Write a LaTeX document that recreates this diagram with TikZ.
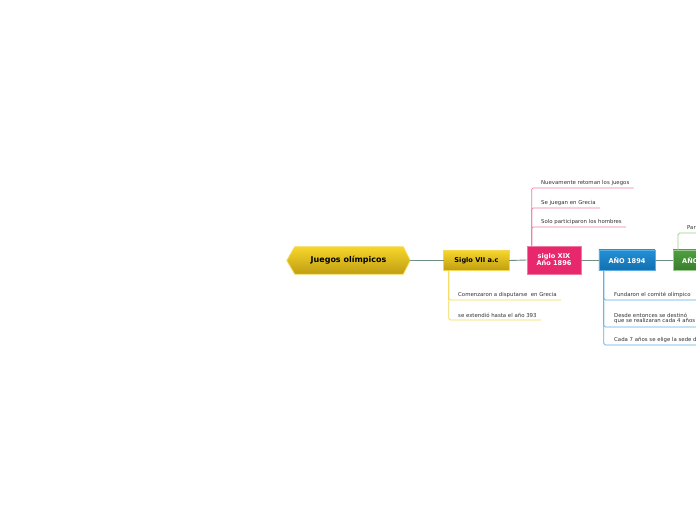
\documentclass[tikz,border=0pt]{standalone}
\usepackage{fontspec}
\setmainfont{DejaVu Sans}
\usetikzlibrary{calc}
\definecolor{conn}{HTML}{6F8F80}
\definecolor{ytop}{HTML}{F6D52A}
\definecolor{ybot}{HTML}{C09E12}
\definecolor{yline}{HTML}{F4D850}
\definecolor{pinkbox}{HTML}{E8286C}
\definecolor{pinkline}{HTML}{EE7AA2}
\definecolor{bluetop}{HTML}{2290D6}
\definecolor{bluebot}{HTML}{146FB0}
\definecolor{blueline}{HTML}{5AAEE6}
\definecolor{greentop}{HTML}{4FA040}
\definecolor{greenbot}{HTML}{3A7E2C}
\definecolor{greenline}{HTML}{9ACB8E}
\tikzset{
  lab/.style={inner xsep=0pt, inner ysep=2.2pt, anchor=south west, font=\fontsize{5.4}{6.4}\selectfont, text=black!80, align=left},
  boxbase/.style={inner sep=0pt, font=\bfseries\fontsize{6.6}{8}\selectfont, align=center},
  conline/.style={draw=conn, line width=0.9pt},
}
\begin{document}
\begin{tikzpicture}[x=1pt,y=-1pt]
\useasboundingbox[fill=white] (0,0) rectangle (696,520);

% root hexagon
\node[inner sep=0pt, minimum width=123pt, minimum height=27pt] (root) at (348.5,260.5) {};
\shade[top color=ytop, bottom color=ybot, draw=yline, line width=0.8pt]
  (root.west) -- ($(root.north west)+(8,0)$) -- ($(root.north east)+(-7,0)$) -- (root.east)
  -- ($(root.south east)+(-7,0)$) -- ($(root.south west)+(8,0)$) -- cycle;
\node[font=\bfseries\fontsize{8}{9}\selectfont] at (root.center) {Juegos olímpicos};

% Siglo VII
\node[boxbase, minimum width=65pt, minimum height=19pt] (vii) at (476.5,260.5) {};
\shade[top color=ytop, bottom color=ybot, draw=yline, line width=0.8pt] (vii.north west) rectangle (vii.south east);
\node[boxbase] at (vii.center) {Siglo VII a.c};

% siglo XIX
\node[boxbase, minimum width=54pt, minimum height=28pt, fill=pinkbox, draw=pinkline, line width=0.6pt, text=white] (xix) at (554,260) {siglo XIX\\[-1pt]Año 1896};

% AÑO 1894
\node[boxbase, minimum width=56pt, minimum height=20pt] (b94) at (627,260) {};
\shade[top color=bluetop, bottom color=bluebot, draw=blueline, line width=0.6pt] (b94.north west) rectangle (b94.south east);
\node[boxbase, text=white] at (b94.center) {AÑO 1894};

% green box (cut off)
\node[boxbase, minimum width=56pt, minimum height=20pt, anchor=west] (g) at (673,260) {};
\shade[top color=greentop, bottom color=greenbot, draw=greenline, line width=0.6pt] (g.north west) rectangle (g.south east);
\node[boxbase, text=white, anchor=west] at ($(g.west)+(9,0)$) {AÑO 1896};

% main connectors
\draw[conline] (root.east) -- (vii.west);
\draw[conline] (vii.east) -- (xix.west);
\draw[conline] (xix.east) -- (b94.west);
\draw[conline] (b94.east) -- (g.west);

% pink children
\node[lab] (p1) at (532,188) {\hspace{9pt}Nuevamente retoman los juegos\hspace{4pt}};
\node[lab] (p2) at (532,208) {\hspace{9pt}Se juegan en Grecia\hspace{4pt}};
\node[lab] (p3) at (532,227) {\hspace{9pt}Solo participaron los hombres\hspace{4pt}};
\foreach \n in {p1,p2,p3}
  \draw[pinkline, line width=0.7pt, rounded corners=1.5pt] ([xshift=5pt]xix.north west) |- (\n.south east);

% yellow children
\node[lab] (y1) at (449,300) {\hspace{9pt}Comenzaron a disputarse\ \ en Grecia\hspace{4pt}};
\node[lab] (y2) at (449,320) {\hspace{9pt}se extendió hasta el año 393\hspace{4pt}};
\foreach \n in {y1,y2}
  \draw[yline, line width=0.7pt, rounded corners=1.5pt] ([xshift=5pt]vii.south west) |- (\n.south east);

% blue children
\node[lab] (c1) at (604,300) {\hspace{10pt}Fundaron el comité olímpico\hspace{6pt}};
\node[lab] (c2) at (604,327) {\hspace{10pt}\begin{tabular}{@{}l@{}}Desde entonces se destinó\\[-1.5pt]que se realizaran cada 4 años\end{tabular}\hspace{6pt}};
\node[lab] (c3) at (604,345) {\hspace{10pt}Cada 7 años se elige la sede de los juegos\hspace{6pt}};
\foreach \n in {c1,c2,c3}
  \draw[blueline, line width=0.7pt, rounded corners=1.5pt] ([xshift=5pt]b94.south west) |- (\n.south east);

% green child
\node[lab] (g1) at (678,233) {\hspace{9pt}Participaron\hspace{4pt}};
\draw[greenline, line width=0.7pt, rounded corners=1.5pt] ([xshift=5pt]g.north west) |- (g1.south east);
\end{tikzpicture}
\end{document}
